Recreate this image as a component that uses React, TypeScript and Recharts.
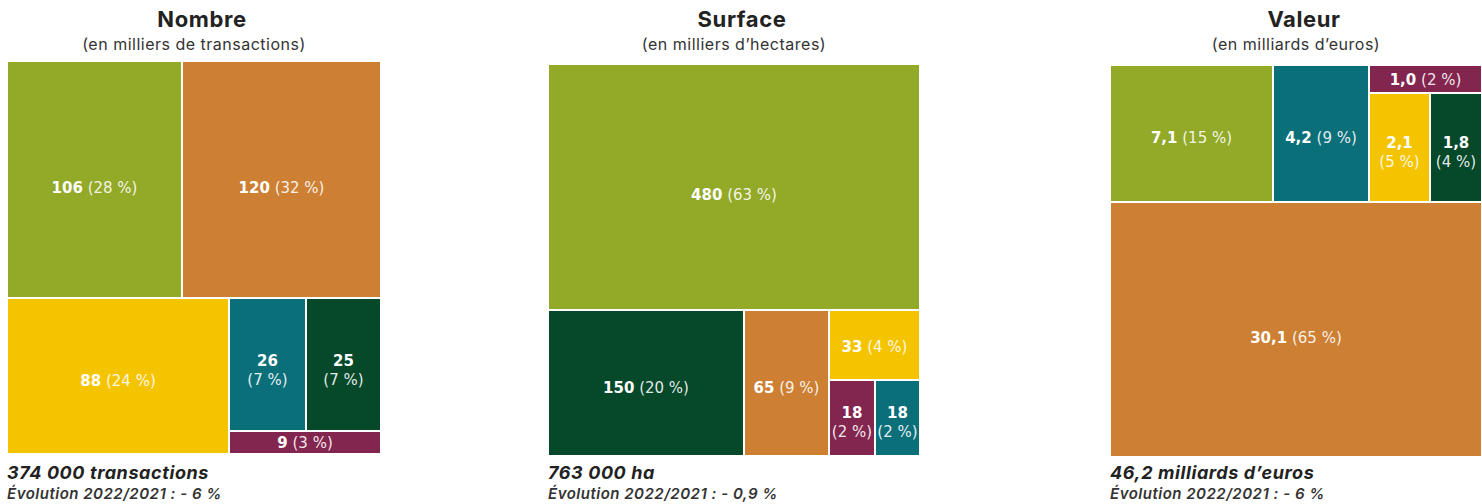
import React from 'react';
import { Treemap } from 'recharts';

const GREEN = '#93A928';
const ORANGE = '#CD7F33';
const YELLOW = '#F5C400';
const TEAL = '#0B6F7A';
const DARK = '#05482A';
const PURPLE = '#83264F';

// Nombre (en milliers de transactions)
const nombreValues = [106, 120, 88, 26, 25, 9];
const nombreShares = [28, 32, 24, 7, 7, 3];
const nombreColors = [GREEN, ORANGE, YELLOW, TEAL, DARK, PURPLE];
const nombreGroups = [[0, 1], [2, [[3, 4], 5]]];

// Surface (en milliers d'hectares)
const surfaceValues = [480, 150, 65, 33, 18, 18];
const surfaceShares = [63, 20, 9, 4, 2, 2];
const surfaceColors = [GREEN, DARK, ORANGE, YELLOW, PURPLE, TEAL];
const surfaceGroups = [0, [1, 2, [3, [4, 5]]]];

// Valeur (en milliards d'euros)
const valeurValues = [7.1, 4.2, 1.0, 2.1, 1.8, 30.1];
const valeurShares = [15, 9, 2, 5, 4, 65];
const valeurColors = [GREEN, TEAL, PURPLE, YELLOW, DARK, ORANGE];
const valeurGroups = [[0, 1, [2, [3, 4]]], 5];

const FONT_TITLE = 'Inter, "DejaVu Sans", sans-serif';
const FONT_LABEL = '"DejaVu Sans", Verdana, sans-serif';

type Group = number | Group[];

const fmt = (v: number, decimals: number) => v.toFixed(decimals).replace('.', ',');

const buildTree = (
  groups: Group[],
  values: number[],
  shares: number[],
  colors: string[],
  decimals: number,
  prefix = 'g',
): any[] =>
  groups.map((g, i) =>
    typeof g === 'number'
      ? { name: `leaf-${g}`, size: values[g], share: shares[g], tone: colors[g], label: fmt(values[g], decimals) }
      : { name: `${prefix}-${i}`, children: buildTree(g, values, shares, colors, decimals, `${prefix}-${i}`) },
  );

const Tile = (props: any) => {
  const { x, y, width, height, tone, label, share } = props;
  if (!tone) return null;
  const cx = x + width / 2;
  // labels sit slightly below the centre in bigger tiles
  const cy = y + height / 2 + Math.min(8, height * 0.035);
  const twoLines = width < 85;
  return (
    <g>
      <rect x={x} y={y} width={width} height={height} fill={tone} stroke="#fff" strokeWidth={2} />
      {twoLines ? (
        <text x={cx} textAnchor="middle" fill="#fff" fontFamily={FONT_LABEL} fontSize={15}>
          <tspan x={cx} y={cy - 3} fontWeight="bold">{label}</tspan>
          <tspan x={cx} y={cy + 16} fillOpacity={0.9}>({share} %)</tspan>
        </text>
      ) : (
        <text x={cx} y={cy + 5} textAnchor="middle" fill="#fff" fontFamily={FONT_LABEL} fontSize={15}>
          <tspan fontWeight="bold">{label}</tspan>
          <tspan fillOpacity={0.9}> ({share} %)</tspan>
        </text>
      )}
    </g>
  );
};

const Panel = ({ left, top, width, height, data }: any) => (
  <div style={{ position: 'absolute', left, top, width, height }}>
    <Treemap
      width={width}
      height={height}
      data={data}
      dataKey="size"
      nameKey="name"
      aspectRatio={1}
      isAnimationActive={false}
      content={<Tile />}
    />
  </div>
);

const panels = [
  {
    title: 'Nombre',
    subtitle: '(en milliers de transactions)',
    total: '374 000 transactions',
    evolution: 'Évolution 2022/2021 : - 6 %',
    left: 7, top: 61, width: 374, height: 393,
    data: buildTree(nombreGroups, nombreValues, nombreShares, nombreColors, 0),
  },
  {
    title: 'Surface',
    subtitle: '(en milliers d\u2019hectares)',
    total: '763 000 ha',
    evolution: 'Évolution 2022/2021 : - 0,9 %',
    left: 548, top: 64, width: 372, height: 392,
    data: buildTree(surfaceGroups, surfaceValues, surfaceShares, surfaceColors, 0),
  },
  {
    title: 'Valeur',
    subtitle: '(en milliards d\u2019euros)',
    total: '46,2 milliards d\u2019euros',
    evolution: 'Évolution 2022/2021 : - 6 %',
    left: 1110, top: 65, width: 372, height: 392,
    data: buildTree(valeurGroups, valeurValues, valeurShares, valeurColors, 1),
  },
];

export default function App() {
  return (
    <div style={{ position: 'absolute', left: 0, top: 0, width: 1482, height: 504, background: '#fff', overflow: 'hidden' }}>
      <svg width={1482} height={504} style={{ position: 'absolute', left: 0, top: 0 }}>
        {panels.map((p) => {
          const cx = p.left + p.width / 2;
          return (
            <g key={p.title} fill="#222">
              <text x={cx + 8} y={27} textAnchor="middle" fontFamily={FONT_TITLE} fontSize={22} fontWeight={700} letterSpacing={0.6}>
                {p.title}
              </text>
              <text x={cx} y={50} textAnchor="middle" fontFamily={FONT_TITLE} fontSize={16} fill="#333" letterSpacing={0.5}>
                {p.subtitle}
              </text>
              <text x={p.left} y={479} fontFamily={FONT_TITLE} fontSize={18} fontWeight={700} fontStyle="italic" letterSpacing={0.6}>
                {p.total}
              </text>
              <text x={p.left} y={499} fontFamily={FONT_TITLE} fontSize={15} fontWeight={600} fontStyle="italic" fill="#333" letterSpacing={0.5}>
                {p.evolution}
              </text>
            </g>
          );
        })}
      </svg>
      {panels.map((p) => (
        <Panel key={p.title} left={p.left} top={p.top} width={p.width} height={p.height} data={p.data} />
      ))}
    </div>
  );
}
